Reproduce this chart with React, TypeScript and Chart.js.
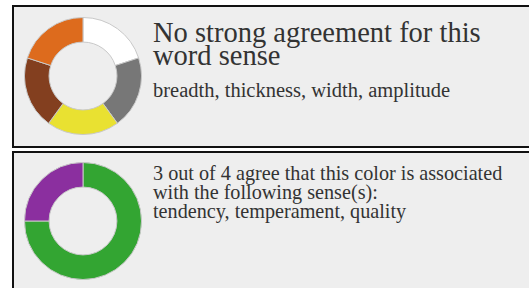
import React, { useEffect, useRef } from "react";
import { Chart, registerables } from "chart.js";

Chart.register(...registerables);

// Chart 1: no strong agreement (5 equal votes)
const labels1 = ["white", "gray", "yellow", "brown", "orange"];
const values1 = [1, 1, 1, 1, 1];
const colors1 = ["#ffffff", "#777777", "#e9e131", "#833f1f", "#dd6b1d"];

// Chart 2: 3 out of 4 agree
const labels2 = ["green", "purple"];
const values2 = [3, 1];
const colors2 = ["#33a532", "#8b2f9f"];

const title1 = "No strong agreement for this word sense";
const senses1 = "breadth, thickness, width, amplitude";
const title2a = "3 out of 4 agree that this color is associated with the following sense(s):";
const senses2 = "tendency, temperament, quality";

function Donut({ labels, values, colors, left, top }: any) {
  const ref = useRef<HTMLCanvasElement>(null);
  useEffect(() => {
    const c = new Chart(ref.current!, {
      type: "doughnut",
      data: {
        labels,
        datasets: [
          {
            data: values,
            backgroundColor: colors,
            borderColor: "#c8c8c8",
            borderWidth: 1,
          },
        ],
      },
      options: {
        animation: false,
        responsive: false,
        maintainAspectRatio: false,
        cutout: "58%",
        plugins: { legend: { display: false }, tooltip: { enabled: false } },
        layout: { padding: 0 },
      },
    });
    return () => c.destroy();
  }, []);
  return (
    <div style={{ position: "absolute", left, top, width: 118, height: 118 }}>
      <canvas ref={ref} width={118} height={118} style={{ display: "block" }} />
    </div>
  );
}

const font = "'Liberation Serif', serif";

export default function App() {
  const boxBase = {
    position: "absolute" as const,
    left: 12,
    right: -30,
    boxSizing: "border-box" as const,
    border: "2px solid #111",
    background: "#eeeeee",
  };
  return (
    <div
      style={{
        position: "fixed",
        left: 0,
        top: 0,
        width: "100vw",
        height: "100vh",
        overflow: "hidden",
        background: "#ffffff",
      }}
    >
      <div style={{ ...boxBase, top: 5, height: 143 }} />
      <div style={{ ...boxBase, top: 151, height: 170 }} />
      <Donut labels={labels1} values={values1} colors={colors1} left={24} top={17} />
      <Donut labels={labels2} values={values2} colors={colors2} left={24} top={162} />
      <div
        style={{
          position: "absolute",
          left: 153,
          top: 20.9,
          width: 360,
          fontFamily: font,
          fontSize: 28.5,
          lineHeight: "23px",
          color: "#333",
        }}
      >
        {title1}
      </div>
      <div
        style={{
          position: "absolute",
          left: 153,
          top: 79,
          width: 370,
          fontFamily: font,
          fontSize: 20.5,
          lineHeight: "22px",
          color: "#333",
          whiteSpace: "nowrap",
        }}
      >
        {senses1}
      </div>
      <div
        style={{
          position: "absolute",
          left: 153,
          top: 163.7,
          width: 360,
          fontFamily: font,
          fontSize: 20.2,
          lineHeight: "19px",
          color: "#333",
        }}
      >
        {title2a}
        <br />
        {senses2}
      </div>
    </div>
  );
}
